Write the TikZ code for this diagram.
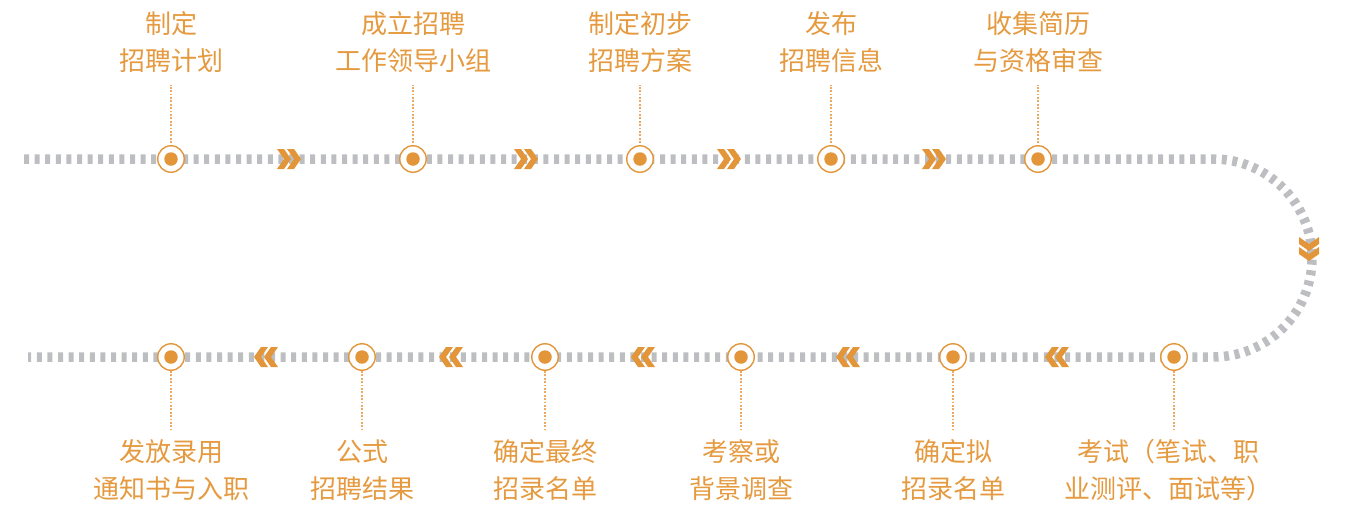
\documentclass[tikz,border=0pt]{standalone}
\usepackage{fontspec}
\newfontfamily\cjk{Noto Sans CJK SC}
\definecolor{org}{HTML}{E3953A}
\definecolor{orgtxt}{HTML}{E59A40}
\definecolor{orglt}{HTML}{EEA862}
\definecolor{gry}{HTML}{BDBEC2}
\tikzset{
  gline/.style={draw=gry,line width=9.5pt,dash pattern=on 5pt off 5.6pt},
  ring/.style={circle,draw=org,line width=1.4pt,fill=white,minimum size=26.5pt,inner sep=0pt},
  dotc/.style={circle,fill=org,minimum size=13.5pt,inner sep=0pt},
  dotline/.style={draw=orglt,line width=1.3pt,dash pattern=on 1.8pt off 1.6pt},
  lbl/.style={text=orgtxt,align=center,inner sep=0pt,font=\cjk\fontsize{26pt}{37pt}\selectfont},
  chev/.style={fill=org,draw=none}
}
% right-pointing double chevron centred at (#1,#2)
\newcommand\chevR[2]{%
  \fill[chev] (#1-12,#2-10) -- (#1-5,#2-10) -- (#1+2,#2) -- (#1-5,#2+10) -- (#1-12,#2+10) -- (#1-5,#2) -- cycle;
  \fill[chev] (#1-2,#2-10) -- (#1+5,#2-10) -- (#1+12,#2) -- (#1+5,#2+10) -- (#1-2,#2+10) -- (#1+5,#2) -- cycle;}
\newcommand\chevL[2]{%
  \fill[chev] (#1+12,#2-10) -- (#1+5,#2-10) -- (#1-2,#2) -- (#1+5,#2+10) -- (#1+12,#2+10) -- (#1+5,#2) -- cycle;
  \fill[chev] (#1+2,#2-10) -- (#1-5,#2-10) -- (#1-12,#2) -- (#1-5,#2+10) -- (#1+2,#2+10) -- (#1-5,#2) -- cycle;}
\newcommand\chevD[2]{%
  \fill[chev] (#1-10,#2-12) -- (#1-10,#2-5) -- (#1,#2+2) -- (#1+10,#2-5) -- (#1+10,#2-12) -- (#1,#2-5) -- cycle;
  \fill[chev] (#1-10,#2-2) -- (#1-10,#2+5) -- (#1,#2+12) -- (#1+10,#2+5) -- (#1+10,#2-2) -- (#1,#2+5) -- cycle;}
\begin{document}
\begin{tikzpicture}[x=1pt,y=-1pt]
\useasboundingbox (0,0) rectangle (1348,504);
% main track
\draw[gline] (24,159) -- (1213,159) arc[start angle=90,end angle=-90,radius=99pt] -- (28,357);
% chevrons
\chevR{289}{159}\chevR{526}{159}\chevR{729}{159}\chevR{934}{159}
\chevD{1309}{249}
\chevL{1057}{357}\chevL{848}{357}\chevL{643}{357}\chevL{451}{357}\chevL{266}{357}
% top nodes
\foreach \i/\x in {1/171,2/413,3/640,4/831,5/1038}{
  \node[ring] (t\i) at (\x,159) {};
  \node[dotc] at (t\i) {};
  \coordinate (td\i) at (\x,85);
  \draw[dotline,shorten <=2pt] (t\i.north) -- (td\i);
}
\node[lbl] (tl1) at (171,42.5) {制定\\招聘计划};
\node[lbl] (tl2) at (413,42.5) {成立招聘\\工作领导小组};
\node[lbl] (tl3) at (640,42.5) {制定初步\\招聘方案};
\node[lbl] (tl4) at (831,42.5) {发布\\招聘信息};
\node[lbl] (tl5) at (1038,42.5) {收集简历\\与资格审查};
% bottom nodes
\foreach \i/\x in {1/171,2/362,3/545,4/741,5/953,6/1174}{
  \node[ring] (b\i) at (\x,357) {};
  \node[dotc] at (b\i) {};
  \coordinate (bd\i) at (\x,430);
  \draw[dotline] (b\i.south) -- (bd\i);
}
\node[lbl] (bl1) at (171,470) {发放录用\\通知书与入职};
\node[lbl] (bl2) at (362,470) {公式\\招聘结果};
\node[lbl] (bl3) at (545,470) {确定最终\\招录名单};
\node[lbl] (bl4) at (741,470) {考察或\\背景调查};
\node[lbl] (bl5) at (953,470) {确定拟\\招录名单};
\node[lbl] (bl6) at (1168,470) {考试（笔试、职\\业测评、面试等）};
\end{tikzpicture}
\end{document}
